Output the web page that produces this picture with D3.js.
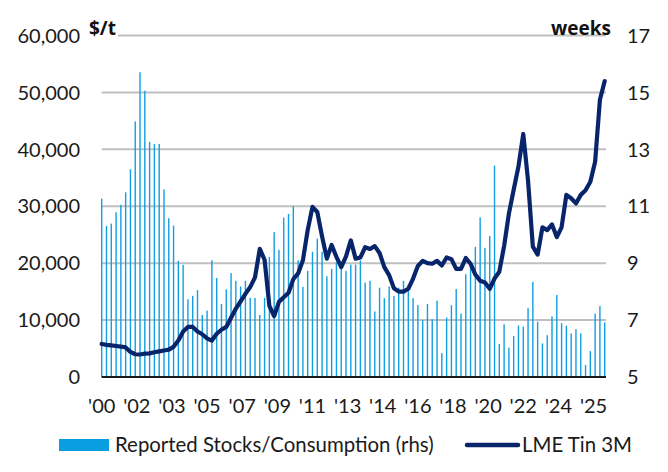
<!DOCTYPE html>
<html>
<head>
<meta charset="utf-8">
<script src="https://cdn.jsdelivr.net/npm/d3@7"></script>
<style>
  html, body { margin: 0; padding: 0; background: #fff; }
  svg { display: block; font-family: Lato, "Noto Sans", sans-serif; }
  .tick-label { font-size: 20px; fill: #1a1a1a; }
  .unit { font-family: "Open Sans", sans-serif; font-size: 19px; font-weight: 700; fill: #111; }
  .legend-text { font-size: 20.4px; fill: #1a1a1a; }
</style>
</head>
<body>
<svg id="chart" width="668" height="472"></svg>
<script>
// Tin price (quarterly avg, $/t) vs reported stocks/consumption (weeks, rhs)

const xLabels = ["'00", "'02", "'03", "'05", "'07", "'09", "'11", "'13",
                 "'14", "'16", "'18", "'20", "'22", "'24", "'25"];

const priceTicks = [0, 10000, 20000, 30000, 40000, 50000, 60000];
const weekTicks = [5, 7, 9, 11, 13, 15, 17];

// Reported stocks / consumption, weeks (rhs)
const stockWeeks = [
  11.27, 10.31, 10.39, 10.79, 11.05, 11.49, 12.30, 13.98, 15.71, 15.06,
  13.26, 13.19, 13.19, 11.59, 10.58, 10.32, 9.08, 8.94, 7.73, 7.85,
  8.05, 7.18, 7.33, 9.10, 8.48, 7.57,
  8.08, 8.65, 8.38, 8.18, 8.38, 7.78, 7.78, 7.18, 7.78, 9.22,
  10.09, 9.47, 10.60, 10.73, 11.00, 9.10, 8.17, 8.73, 9.40, 9.86,
  9.40, 8.54, 8.80, 9.03, 8.85, 8.73,
  8.95, 8.95, 9.10, 8.32, 8.38, 7.30, 8.14, 7.77, 8.18, 7.85,
  8.14, 8.38, 8.24, 7.77, 7.53, 7.00, 7.57, 7.03, 7.68, 5.84,
  7.09, 7.52, 8.09, 7.23, 8.61, 8.90,
  9.57, 10.61, 9.54, 9.96, 12.43, 6.16, 6.85, 6.03, 6.44, 6.81,
  6.77, 7.42, 8.34, 6.94, 6.18, 6.47, 7.13, 7.88, 6.89, 6.80,
  6.53, 6.68, 6.53, 5.42, 5.91, 7.23, 7.49, 6.92,
];

// LME Tin 3M, $/t (lhs)
const tinPrice = [
  5800, 5650, 5550, 5450, 5350, 5200, 4400, 4000, 3950, 4100,
  4150, 4350, 4500, 4650, 4800, 5300, 6400, 8000, 8800, 8800,
  8000, 7500, 6800, 6400, 7600, 8300, 8800, 10400, 12000, 13300,
  14600, 15800, 17500, 22500, 20600, 12500, 10700, 13200, 14000, 14800,
  17200, 18200, 20500, 25800, 29900, 29000, 24700, 20800, 23200, 21100,
  19300, 21200, 24000, 20800, 21000, 22800, 22500, 23000, 21800, 19300,
  17900, 15600, 15000, 15000, 15500, 17300, 19500, 20400, 20000, 19900,
  20400, 19600, 21000, 20700, 19000, 19000, 20900, 19900, 18000, 16900,
  16600, 15500, 17300, 18500, 23000, 28700, 32900, 37000, 42700, 34500,
  22900, 21500, 26300, 25800, 26800, 24600, 26300, 32000, 31400, 30500,
  32000, 32800, 34300, 37800, 48700, 52000,
];

const svg = d3.select("#chart");

const plot = { left: 101.7, right: 604.7, top: 35.5, bottom: 377 };
const gridRight = 606;

const x = d3.scaleLinear()
  .domain([0, stockWeeks.length - 1])
  .range([plot.left, plot.right]);

const yPrice = d3.scaleLinear().domain([0, 60000]).range([plot.bottom, plot.top]);
const yWeeks = d3.scaleLinear().domain([5, 17]).range([plot.bottom, plot.top]);

// labels sit every 22/3 periods
const labelStep = 22 / 3;

// Gridlines
svg.append("g")
  .selectAll("line")
  .data(priceTicks.filter((d) => d > 0))
  .join("line")
  .attr("x1", plot.left).attr("x2", gridRight)
  .attr("y1", (d) => yPrice(d)).attr("y2", (d) => yPrice(d))
  .attr("stroke", "#c0c0c0")
  .attr("stroke-width", 2);

// Bars (rhs)
const barW = 1.4;
svg.append("g")
  .selectAll("rect")
  .data(stockWeeks)
  .join("rect")
  .attr("x", (d, i) => x(i) - barW / 2)
  .attr("width", barW)
  .attr("y", (d) => yWeeks(d))
  .attr("height", (d) => yWeeks(5) - yWeeks(d))
  .attr("fill", "#139ee2");

// Baseline
svg.append("line")
  .attr("x1", plot.left).attr("x2", gridRight)
  .attr("y1", yPrice(0)).attr("y2", yPrice(0))
  .attr("stroke", "#1a1a1a")
  .attr("stroke-width", 2);

// Price line
const line = d3.line()
  .x((d, i) => x(i))
  .y((d) => yPrice(d));

svg.append("path")
  .datum(tinPrice)
  .attr("d", line)
  .attr("fill", "none")
  .attr("stroke", "#08246b")
  .attr("stroke-width", 4.2)
  .attr("stroke-linejoin", "round")
  .attr("stroke-linecap", "round");

// Left axis labels
svg.append("g")
  .selectAll("text")
  .data(priceTicks)
  .join("text")
  .attr("class", "tick-label")
  .attr("x", 80)
  .attr("y", (d) => yPrice(d))
  .attr("dy", "0.36em")
  .attr("text-anchor", "end")
  .text((d) => d3.format(",")(d));

// Right axis labels
svg.append("g")
  .selectAll("text")
  .data(weekTicks)
  .join("text")
  .attr("class", "tick-label")
  .attr("x", 627)
  .attr("y", (d) => yWeeks(d))
  .attr("dy", "0.36em")
  .attr("text-anchor", "start")
  .text((d) => d);

// X labels
svg.append("g")
  .selectAll("text")
  .data(xLabels)
  .join("text")
  .attr("class", "tick-label")
  .attr("x", (d, i) => x(i * labelStep))
  .attr("y", 413)
  .attr("text-anchor", "middle")
  .text((d) => d);

// Units
svg.append("rect")
  .attr("x", 88).attr("y", 19).attr("width", 30).attr("height", 20)
  .attr("fill", "#fff");
svg.append("text")
  .attr("class", "unit")
  .attr("x", 89).attr("y", 35)
  .text("$/t");
svg.append("text")
  .attr("class", "unit")
  .attr("x", 611).attr("y", 35)
  .attr("text-anchor", "end")
  .text("weeks");

// Legend
const legend = svg.append("g");
legend.append("rect")
  .attr("x", 59).attr("y", 439).attr("width", 50).attr("height", 12)
  .attr("fill", "#0a9de0");
legend.append("text")
  .attr("class", "legend-text")
  .attr("x", 115).attr("y", 445).attr("dy", "0.36em")
  .text("Reported Stocks/Consumption (rhs)");
legend.append("line")
  .attr("x1", 467).attr("x2", 518)
  .attr("y1", 445).attr("y2", 445)
  .attr("stroke", "#08246b")
  .attr("stroke-width", 4.5)
  .attr("stroke-linecap", "round");
legend.append("text")
  .attr("class", "legend-text")
  .attr("x", 522).attr("y", 445).attr("dy", "0.36em")
  .text("LME Tin 3M");
</script>
</body>
</html>
